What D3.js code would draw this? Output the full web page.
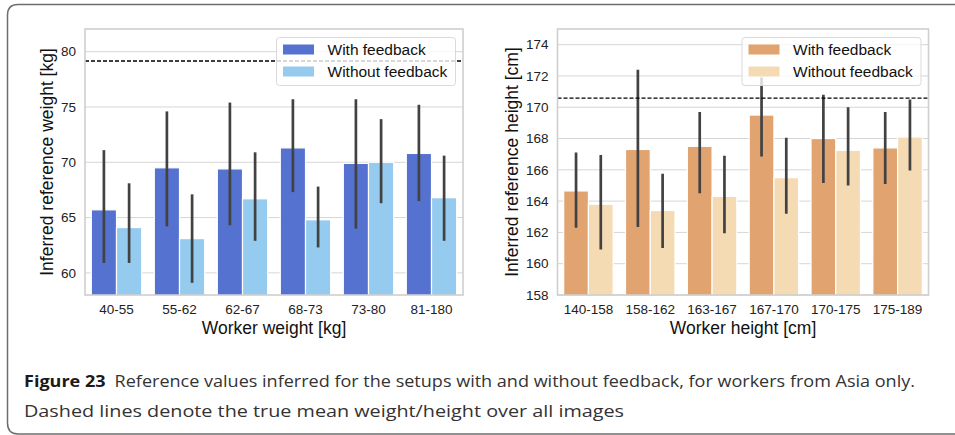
<!DOCTYPE html>
<html>
<head>
<meta charset="utf-8">
<script src="https://cdn.jsdelivr.net/npm/d3@7"></script>
<style>
  body { margin: 0; background: #fff; }
  svg { display: block; }
</style>
</head>
<body>
<div id="chart"></div>
<script>
// DATA
const weightGroups = ["40-55", "55-62", "62-67", "68-73", "73-80", "81-180"];
const weightWith = [65.7, 69.5, 69.4, 71.3, 69.9, 70.8];
const weightWithLo = [60.9, 64.2, 64.3, 67.3, 64.0, 66.5];
const weightWithHi = [71.1, 74.6, 75.4, 75.7, 75.7, 75.2];
const weightWithout = [64.1, 63.1, 66.7, 64.8, 70.0, 66.8];
const weightWithoutLo = [60.9, 59.1, 62.9, 62.3, 66.3, 62.9];
const weightWithoutHi = [68.1, 67.1, 70.9, 67.8, 73.9, 70.6];
const weightTrueMean = 79.15;
const weightTicks = [60, 65, 70, 75, 80];

const heightGroups = ["140-158", "158-162", "163-167", "167-170", "170-175", "175-189"];
const heightWith = [164.65, 167.3, 167.5, 169.5, 168.0, 167.4];
const heightWithLo = [162.3, 162.35, 164.5, 166.85, 165.15, 165.1];
const heightWithHi = [167.1, 172.4, 169.7, 171.9, 170.8, 169.7];
const heightWithout = [163.8, 163.4, 164.3, 165.5, 167.25, 168.1];
const heightWithoutLo = [160.9, 161.0, 161.95, 163.2, 165.0, 165.95];
const heightWithoutHi = [166.95, 165.75, 166.9, 168.05, 170.0, 170.5];
const heightTrueMean = 170.58;
const heightTicks = [158, 160, 162, 164, 166, 168, 170, 172, 174];

const seriesNames = ["With feedback", "Without feedback"];

const width = 955, height = 435;
const font = "'Liberation Sans', Arial, sans-serif";

const svg = d3.select("#chart").append("svg")
  .attr("width", width)
  .attr("height", height);

// FRAME (rounded box, open on the right)
svg.append("path")
  .attr("d", "M955,4.5 L18,4.5 Q7.5,4.5 7.5,15 L7.5,423 Q7.5,434 18,434 L955,434")
  .attr("fill", "none")
  .attr("stroke", "#6e6e6e")
  .attr("stroke-width", 1.5);

function drawPanel(p) {
  const rows = p.groups.map((g, i) => ({
    group: g,
    vals: [
      { s: 0, v: p.withV[i], lo: p.withLo[i], hi: p.withHi[i] },
      { s: 1, v: p.withoutV[i], lo: p.withoutLo[i], hi: p.withoutHi[i] }
    ]
  }));

  const x = d3.scaleBand().domain(p.groups).range([p.x0, p.x1]).paddingInner(0.2).paddingOuter(0.1);
  const xs = d3.scaleBand().domain([0, 1]).range([0, x.bandwidth()]);
  const y = d3.scaleLinear().domain(p.yDomain).range([p.y1, p.y0]);

  const g = svg.append("g");

  // clip to plot area
  g.append("clipPath").attr("id", p.id)
    .append("rect")
    .attr("x", p.x0).attr("y", p.y0)
    .attr("width", p.x1 - p.x0).attr("height", p.y1 - p.y0);

  // grid
  g.append("g")
    .selectAll("line")
    .data(p.ticks)
    .join("line")
      .attr("x1", p.x0).attr("x2", p.x1)
      .attr("y1", d => y(d)).attr("y2", d => y(d))
      .attr("stroke", "#d6d6d6")
      .attr("stroke-width", 1);

  const plot = g.append("g").attr("clip-path", `url(#${p.id})`);

  // bars
  const grp = plot.selectAll("g.grp")
    .data(rows)
    .join("g")
      .attr("class", "grp")
      .attr("transform", d => `translate(${x(d.group)},0)`);

  grp.selectAll("rect")
    .data(d => d.vals)
    .join("rect")
      .attr("x", d => xs(d.s))
      .attr("width", xs.bandwidth())
      .attr("y", d => y(d.v))
      .attr("height", d => p.y1 + 5 - y(d.v))
      .attr("fill", d => p.colors[d.s])
      .attr("stroke", "#fff")
      .attr("stroke-width", 1.2);

  // error bars
  grp.selectAll("line")
    .data(d => d.vals)
    .join("line")
      .attr("x1", d => xs(d.s) + xs.bandwidth() / 2)
      .attr("x2", d => xs(d.s) + xs.bandwidth() / 2)
      .attr("y1", d => y(d.lo))
      .attr("y2", d => y(d.hi))
      .attr("stroke", "#424242")
      .attr("stroke-width", 2.7);

  // true mean
  plot.append("line")
    .attr("x1", p.x0).attr("x2", p.x1)
    .attr("y1", y(p.trueMean)).attr("y2", y(p.trueMean))
    .attr("stroke", "#000")
    .attr("stroke-width", 1.4)
    .attr("stroke-dasharray", "4,2");

  // plot border
  g.append("rect")
    .attr("x", p.x0).attr("y", p.y0)
    .attr("width", p.x1 - p.x0).attr("height", p.y1 - p.y0)
    .attr("fill", "none")
    .attr("stroke", "#cfcfcf")
    .attr("stroke-width", 1.6);

  // y ticks
  g.append("g")
    .selectAll("text")
    .data(p.ticks)
    .join("text")
      .attr("x", p.x0 - 9)
      .attr("y", d => y(d))
      .attr("dy", "0.35em")
      .attr("text-anchor", "end")
      .attr("font-family", font)
      .attr("font-size", 13.5)
      .attr("fill", "#222")
      .text(d => d);

  // x ticks
  g.append("g")
    .selectAll("text")
    .data(p.groups)
    .join("text")
      .attr("x", d => x(d) + x.bandwidth() / 2)
      .attr("y", p.y1 + 19)
      .attr("text-anchor", "middle")
      .attr("font-family", font)
      .attr("font-size", 13.5)
      .attr("fill", "#222")
      .text(d => d);

  // axis titles
  g.append("text")
    .attr("x", (p.x0 + p.x1) / 2)
    .attr("y", p.y1 + 38.5)
    .attr("text-anchor", "middle")
    .attr("font-family", font)
    .attr("font-size", 17.5)
    .attr("fill", "#111")
    .text(p.xTitle);

  g.append("text")
    .attr("transform", `translate(${p.yTitleX},${(p.y0 + p.y1) / 2}) rotate(-90)`)
    .attr("text-anchor", "middle")
    .attr("font-family", font)
    .attr("font-size", 17.5)
    .attr("fill", "#111")
    .text(p.yTitle);

  // legend
  const lw = p.legendW, lx = p.x1 - 7.5 - lw, ly = p.y0 + 8.5;
  const leg = g.append("g");
  leg.append("rect")
    .attr("x", lx).attr("y", ly)
    .attr("width", lw).attr("height", 48)
    .attr("rx", 3)
    .attr("fill", "#fff")
    .attr("fill-opacity", 0.8)
    .attr("stroke", "#d9d9d9")
    .attr("stroke-width", 1);

  const item = leg.selectAll("g")
    .data(seriesNames)
    .join("g")
      .attr("transform", (d, i) => `translate(${lx + 6.5},${ly + 7 + i * 22})`);
  item.append("rect")
    .attr("width", 31).attr("height", 10)
    .attr("fill", (d, i) => p.colors[i]);
  item.append("text")
    .attr("x", 44.5)
    .attr("y", 10.5)
    .attr("font-family", font)
    .attr("font-size", 15.5)
    .attr("fill", "#111")
    .text(d => d);
}

drawPanel({
  id: "clipW",
  groups: weightGroups,
  withV: weightWith, withLo: weightWithLo, withHi: weightWithHi,
  withoutV: weightWithout, withoutLo: weightWithoutLo, withoutHi: weightWithoutHi,
  trueMean: weightTrueMean,
  ticks: weightTicks,
  yDomain: [58, 82.05],
  x0: 85, x1: 463, y0: 29, y1: 295,
  colors: ["#5572d0", "#95cbef"],
  xTitle: "Worker weight [kg]",
  yTitle: "Inferred reference weight [kg]",
  yTitleX: 53,
  legendW: 179
});

drawPanel({
  id: "clipH",
  groups: heightGroups,
  withV: heightWith, withLo: heightWithLo, withHi: heightWithHi,
  withoutV: heightWithout, withoutLo: heightWithoutLo, withoutHi: heightWithoutHi,
  trueMean: heightTrueMean,
  ticks: heightTicks,
  yDomain: [158, 175],
  x0: 557.5, x1: 928.5, y0: 29, y1: 295,
  colors: ["#e1a36f", "#f5dbb4"],
  xTitle: "Worker height [cm]",
  yTitle: "Inferred reference height [cm]",
  yTitleX: 518,
  legendW: 179
});

// CAPTION
const capFont = "'Open Sans', 'Noto Sans', sans-serif";
const cap1 = svg.append("text")
  .attr("x", 24)
  .attr("y", 387)
  .attr("font-family", capFont)
  .attr("font-size", 16)
  .attr("fill", "#333")
  .attr("textLength", 891)
  .attr("lengthAdjust", "spacingAndGlyphs");
cap1.append("tspan")
  .attr("font-weight", "bold")
  .attr("fill", "#1a1a1a")
  .text("Figure 23");
cap1.append("tspan")
  .text("\u2002Reference values inferred for the setups with and without feedback, for workers from Asia only.");

svg.append("text")
  .attr("x", 24)
  .attr("y", 417)
  .attr("font-family", capFont)
  .attr("font-size", 16)
  .attr("fill", "#333")
  .attr("textLength", 600)
  .attr("lengthAdjust", "spacingAndGlyphs")
  .text("Dashed lines denote the true mean weight/height over all images");
</script>
</body>
</html>
